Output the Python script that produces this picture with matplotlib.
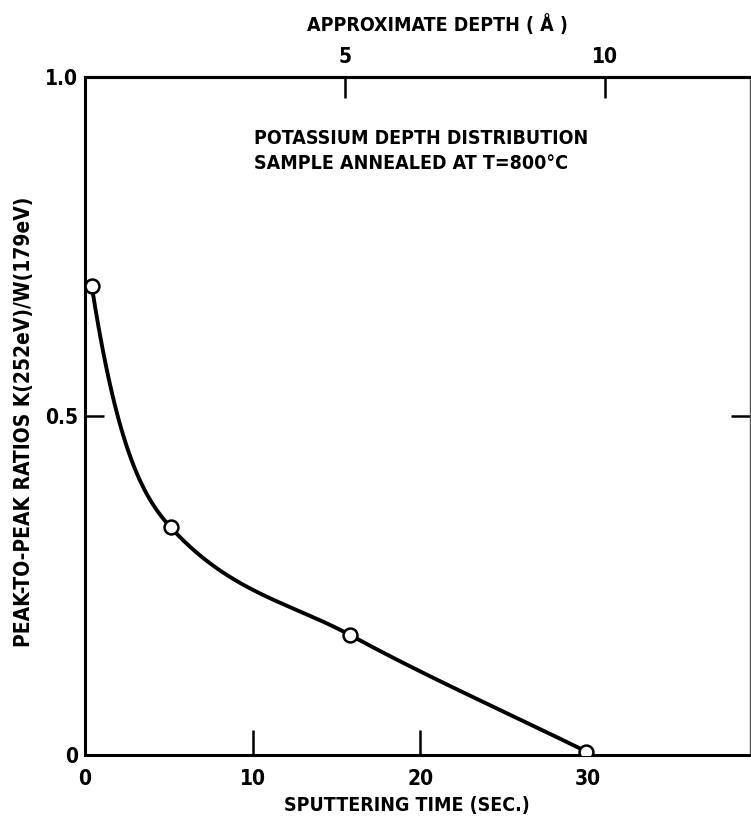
import numpy as np
import matplotlib
matplotlib.use('Agg')
import matplotlib.pyplot as plt

# data
sputter_time = [0.4, 5.1, 15.8, 29.9]      # sec
peak_ratio = [0.692, 0.336, 0.177, 0.005]  # K(252eV)/W(179eV)

x_ticks = [0, 10, 20, 30]
y_ticks = [0, 0.5, 1.0]
y_ticklabels = ['0', '0.5', '1.0']
depth_ticks = [5, 10]
sec_per_angstrom = 3.1

plt.rcParams['font.family'] = ['DejaVu Sans']
plt.rcParams['font.stretch'] = 'condensed'
plt.rcParams['font.weight'] = 'bold'
plt.rcParams['axes.labelweight'] = 'bold'


def smooth_curve(x, y, start_factor=2.1, n=300):
    # monotone cubic hermite (pchip style) through the measured points
    x = np.asarray(x, float)
    y = np.asarray(y, float)
    h = np.diff(x)
    d = np.diff(y) / h
    m = np.zeros_like(y)
    for k in range(1, len(x) - 1):
        w1 = 2 * h[k] + h[k - 1]
        w2 = h[k] + 2 * h[k - 1]
        m[k] = (w1 + w2) / (w1 / d[k - 1] + w2 / d[k])
    m[0] = start_factor * d[0]          # steep start like the hand-drawn curve
    m[-1] = d[-1]
    xs, ys = [], []
    for k in range(len(h)):
        s = np.linspace(0, 1, n)
        h00 = 2 * s**3 - 3 * s**2 + 1
        h10 = s**3 - 2 * s**2 + s
        h01 = -2 * s**3 + 3 * s**2
        h11 = s**3 - s**2
        xs.append(x[k] + s * h[k])
        ys.append(h00 * y[k] + h10 * h[k] * m[k] + h01 * y[k + 1] + h11 * h[k] * m[k + 1])
    return np.concatenate(xs), np.concatenate(ys)


fig = plt.figure(figsize=(7.51, 8.23), dpi=100)
ax = fig.add_axes([0.1132, 0.0826, 0.8855, 0.8238])

cx, cy = smooth_curve(sputter_time, peak_ratio)
ax.plot(cx, cy, color='black', lw=2.8, solid_capstyle='round', zorder=2)
ax.plot(sputter_time, peak_ratio, 'o', ms=10, mfc='white', mec='black', mew=1.8, zorder=3)

ax.set_xlim(0, 39.65)
ax.set_ylim(0, 1.0)

ax.set_xticks(x_ticks)
ax.set_xticklabels([str(v) for v in x_ticks], fontsize=15)
ax.set_yticks(y_ticks)
ax.set_yticklabels(y_ticklabels, fontsize=15)
ax.tick_params(axis='x', direction='in', length=18, width=1.8, pad=10)
ax.tick_params(axis='y', direction='in', length=14, width=1.8, pad=5, right=True)
for i in (0, 3):
    ax.xaxis.get_major_ticks()[i].tick1line.set_visible(False)
for i in (0, 2):
    ax.yaxis.get_major_ticks()[i].tick1line.set_visible(False)
    ax.yaxis.get_major_ticks()[i].tick2line.set_visible(False)

for side in ('left', 'bottom', 'top'):
    ax.spines[side].set_linewidth(2.2)
ax.spines['right'].set_linewidth(1.0)
ax.spines['right'].set_color('#555555')

top = ax.secondary_xaxis('top', functions=(lambda t: t / sec_per_angstrom,
                                           lambda d: d * sec_per_angstrom))
top.set_xticks(depth_ticks)
top.set_xticklabels([str(v) for v in depth_ticks], fontsize=15)
top.tick_params(direction='in', length=15, width=1.8, pad=7)
top.spines['top'].set_linewidth(2.2)
fig.text(0.583, 0.970, 'APPROXIMATE DEPTH ( Å )', ha='center', va='center', fontsize=14)

ax.set_xlabel('SPUTTERING TIME (SEC.)', fontsize=14)
ax.xaxis.set_label_coords(0.484, -0.060)
ax.set_ylabel('PEAK-TO-PEAK RATIOS K(252eV)/W(179eV)', fontsize=15)
ax.yaxis.set_label_coords(-0.076, 0.491)

ax.text(10.1, 0.910, 'POTASSIUM DEPTH DISTRIBUTION', ha='left', va='center', fontsize=14)
ax.text(10.1, 0.872, 'SAMPLE ANNEALED AT T=800°C', ha='left', va='center', fontsize=14)

fig.savefig('out.png', dpi=100)
